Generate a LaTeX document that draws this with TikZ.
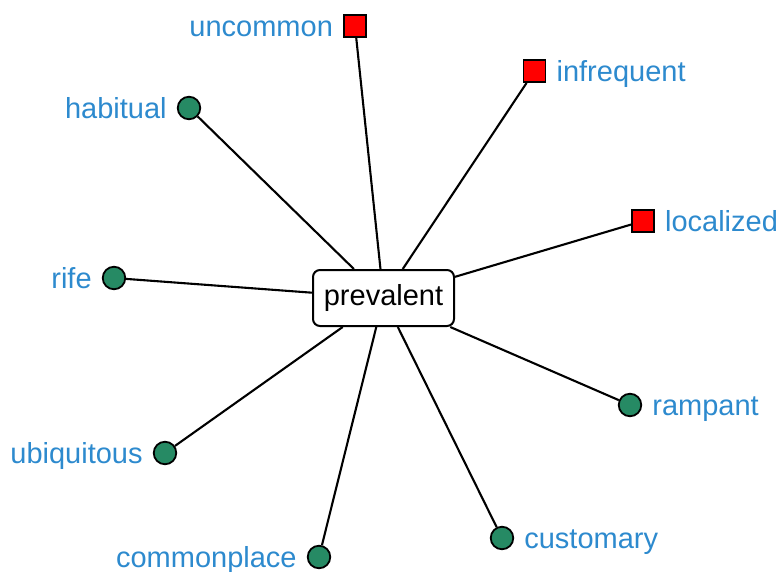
\documentclass[tikz,border=0pt]{standalone}
\usepackage{fontspec}
\setmainfont{Liberation Sans}
\definecolor{wordblue}{RGB}{45,138,206}
\definecolor{syngreen}{RGB}{38,138,100}
\definecolor{antred}{RGB}{255,0,0}
\begin{document}
\begin{tikzpicture}[x=1pt,y=-1pt,
  every label/.style={font=\fontsize{29}{31}\selectfont, text=wordblue,
    inner xsep=10pt, inner ysep=0pt, text height=20.8pt, text depth=0pt},
  hub/.style={draw, line width=2pt, rounded corners=7pt, fill=white,
    minimum width=141pt, minimum height=56pt, inner sep=0pt,
    font=\fontsize{29}{31}\selectfont, text height=20.8pt, text depth=6pt},
  syn/.style={circle, draw, line width=1.8pt, fill=syngreen,
    minimum size=22.5pt, inner sep=0pt},
  ant/.style={rectangle, draw, line width=1.8pt, fill=antred,
    minimum size=22pt, inner sep=0pt},
  link/.style={line width=2.1pt, black}]
\useasboundingbox (0,0) rectangle (781,572);

\node[hub] (c) at (383.5,298) {prevalent};

% antonyms
\node[ant, label=left:uncommon]    (uncommon)   at (355,26)  {};
\node[ant, label=right:infrequent] (infrequent) at (534.5,71) {};
\node[ant, label=right:localized]  (localized)  at (643,221) {};

% synonyms
\node[syn, label=left:habitual]    (habitual)    at (189,108) {};
\node[syn, label=left:rife]        (rife)        at (114,278) {};
\node[syn, label=left:ubiquitous]  (ubiquitous)  at (165,453) {};
\node[syn, label=left:commonplace] (commonplace) at (319,557) {};
\node[syn, label=right:customary]  (customary)   at (502,538) {};
\node[syn, label=right:rampant]    (rampant)     at (630,405) {};

\begin{scope}[on background layer/.try]
\foreach \n in {uncommon,infrequent,localized,habitual,rife,ubiquitous,commonplace,customary,rampant}
  \draw[link] (\n) -- (c);
\end{scope}
\end{tikzpicture}
\end{document}
